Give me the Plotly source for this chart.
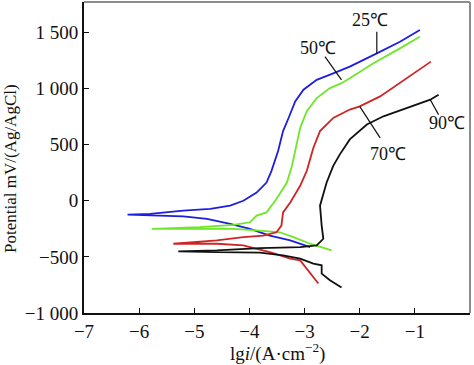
import plotly.graph_objects as go

# 25 °C (blue): cathodic end -> corrosion tip -> anodic end
x25 = [-2.90, -3.26, -3.63, -3.99, -4.35, -4.77, -5.20, -5.80, -6.21,
       -5.80, -5.20, -4.71, -4.35, -4.11, -3.96, -3.87, -3.69, -3.60, -3.48, -3.39,
       -3.29, -3.17, -3.02, -2.78, -2.48, -2.18, -1.69, -1.27, -0.91]
y25 = [-413, -354, -310, -250, -206, -162, -139, -133, -124,
       -118, -88, -73, -44, 0, 44, 73, 162, 266, 443, 620,
       737, 885, 989, 1077, 1135, 1195, 1312, 1416, 1520]

# 50 °C (green)
x50 = [-2.51, -2.90, -3.20, -3.45, -3.81, -4.29, -4.90, -5.77,
       -4.90, -4.29, -3.99, -3.87, -3.69, -3.51, -3.32, -3.23, -3.17, -3.08,
       -2.96, -2.78, -2.54, -2.33, -2.18, -1.75, -1.27, -0.91]
y50 = [-443, -383, -325, -281, -266, -250, -250, -250,
       -236, -215, -192, -133, -104, 15, 162, 310, 443, 649,
       797, 914, 1003, 1047, 1091, 1224, 1357, 1460]

# 70 °C (red)
x70 = [-2.75, -3.08, -3.26, -3.63, -3.99, -4.11, -4.59, -5.38,
       -4.59, -4.11, -3.75, -3.51, -3.42, -3.39, -3.26, -3.08, -2.96, -2.84,
       -2.72, -2.48, -2.18, -2.00, -1.63, -1.15, -0.71]
y70 = [-737, -531, -516, -458, -413, -398, -383, -383,
       -354, -325, -310, -281, -221, -104, -15, 133, 266, 472,
       620, 737, 812, 841, 929, 1091, 1239]

# 90 °C (black)
x90 = [-2.33, -2.54, -2.69, -2.69, -2.84, -3.08, -3.39, -3.81, -4.59, -5.29,
       -4.59, -3.81, -3.08, -2.78, -2.66, -2.69, -2.72, -2.60, -2.48, -2.36,
       -2.18, -1.87, -1.57, -1.15, -0.72, -0.57]
y90 = [-773, -708, -649, -575, -560, -516, -487, -463, -458, -451,
       -443, -422, -413, -398, -339, -221, -44, 162, 310, 413,
       546, 679, 752, 826, 900, 944]

x_ticks = [-7, -6, -5, -4, -3, -2, -1, 0]
x_ticktext = ["\u22127", "\u22126", "\u22125", "\u22124", "\u22123", "\u22122", "\u22121", "0"]
y_ticks = [-1000, -500, 0, 500, 1000, 1500]
y_ticktext = ["\u22121 000", "\u2212500", "0", "500", "1 000", "1 500"]

labels = ["25\u2103", "50\u2103", "70\u2103", "90\u2103"]
label_x = [-1.81, -2.75, -1.48, -0.42]
label_y = [1611, 1357, 413, 693]
leader_x0 = [-1.69, -2.63, -2.00, -0.72]
leader_y0 = [1505, 1283, 841, 900]
leader_x1 = [-1.69, -2.33, -1.63, -0.57]
leader_y1 = [1312, 1077, 560, 767]

FONT = "Liberation Serif, Times New Roman, serif"

fig = go.Figure()
for xs, ys, col in [(x25, y25, "#1e1ee0"), (x50, y50, "#6ee62a"),
                    (x70, y70, "#d02424"), (x90, y90, "#111111")]:
    fig.add_trace(go.Scatter(x=xs, y=ys, mode="lines",
                             line=dict(color=col, width=1.8), showlegend=False))

for i in range(len(labels)):
    fig.add_annotation(x=label_x[i], y=label_y[i], text=labels[i], showarrow=False,
                       font=dict(family=FONT, size=18, color="#111"))
    fig.add_shape(type="line", x0=leader_x0[i], y0=leader_y0[i], x1=leader_x1[i], y1=leader_y1[i],
                  line=dict(color="#111", width=1.2))

# axis titles
fig.add_annotation(xref="paper", yref="paper", x=0.5, y=-0.128, text="lg<i>i</i>/(A\u00b7cm<sup>\u22122</sup>)",
                   showarrow=False, xanchor="center", yanchor="middle",
                   font=dict(family=FONT, size=19, color="#111"))
fig.add_annotation(xref="paper", yref="paper", x=-0.192, y=0.466, text="Potential mV/(Ag/AgCl)",
                   showarrow=False, xanchor="center", yanchor="middle", textangle=-90,
                   font=dict(family=FONT, size=17, color="#111"))

# gray top/right frame
fig.add_shape(type="line", xref="paper", yref="paper", x0=0, y0=1, x1=1, y1=1,
              line=dict(color="#8c8c8c", width=2))
fig.add_shape(type="line", xref="paper", yref="paper", x0=1, y0=0, x1=1, y1=1,
              line=dict(color="#8c8c8c", width=2))

fig.update_layout(
    width=474, height=365,
    margin=dict(l=84, r=4, t=2, b=52),
    paper_bgcolor="white", plot_bgcolor="white",
    font=dict(family=FONT, size=19, color="#111"),
    xaxis=dict(range=[-7, 0], tickvals=x_ticks, ticktext=x_ticktext, automargin=False,
               showgrid=False, zeroline=False, showline=True, linecolor="#111", linewidth=2,
               ticks="inside", ticklen=5, tickcolor="#111", tickfont=dict(size=19)),
    yaxis=dict(range=[-1000, 1770], tickvals=y_ticks, ticktext=y_ticktext, automargin=False,
               showgrid=False, zeroline=False, showline=True, linecolor="#111", linewidth=2,
               ticks="inside", ticklen=5, tickcolor="#111", tickfont=dict(size=19)),
)

fig.write_html("out.html", config={"displayModeBar": False},
               post_script="document.body.style.margin='0';document.body.style.overflow='hidden';")
